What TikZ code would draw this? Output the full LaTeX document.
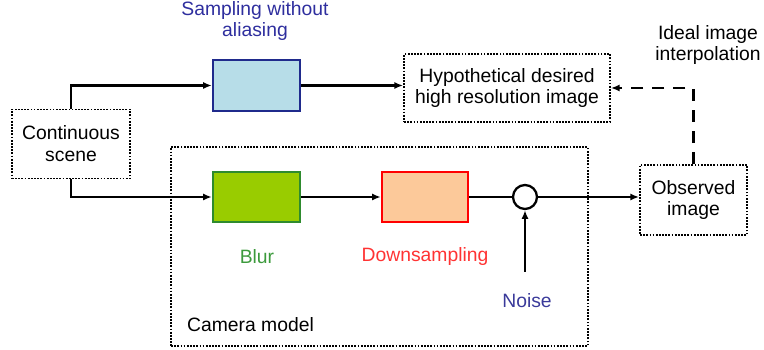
\documentclass[tikz,border=0pt]{standalone}
\usepackage{fontspec}
\setmainfont{Liberation Sans}
\usetikzlibrary{positioning,calc,arrows.meta}
\tikzset{font=\fontsize{11}{12.5}\selectfont}

\definecolor{sampfill}{HTML}{B7DDE8}
\definecolor{sampline}{HTML}{1F2A8C}
\definecolor{samptext}{HTML}{2E2E9E}
\definecolor{blurfill}{HTML}{99CC00}
\definecolor{blurline}{HTML}{2E8B2E}
\definecolor{blurtext}{HTML}{3C9A3C}
\definecolor{downfill}{HTML}{FCC99A}
\definecolor{downtext}{HTML}{FF3333}
\definecolor{noisetext}{HTML}{3A3A9A}

\begin{document}
\begin{tikzpicture}[x=0.02cm, y=-0.02cm]
	\useasboundingbox (0,0) rectangle (764,350);
	\begin{scope}
		\tikzstyle{every node}=[align=center, inner sep=1pt]
		\tikzstyle{dotbox}=[draw, line width=1pt, dash pattern=on 1pt off 0.8pt]
		\tikzstyle{block}=[draw, line width=1.3pt, minimum width=1.74cm, minimum height=1.0cm]
		\tikzstyle{conn}=[line width=1.3pt, -{Latex[length=5pt, width=4pt]}]

		\node[dotbox, minimum width=8.34cm, minimum height=3.98cm] (camera) at (379.5, 246.5) {};
		\node[anchor=west] (camlabel) at (185, 325) {Camera model};

		\node[dotbox, minimum width=2.36cm, minimum height=1.38cm] (scene) at (71, 144) {Continuous\\scene};
		\node[dotbox, minimum width=4.12cm, minimum height=1.36cm] (hypo) at (507, 88) {Hypothetical desired\\high resolution image};
		\node[dotbox, minimum width=2.14cm, minimum height=1.4cm] (obs) at (693.5, 200) {Observed\\image};

		\node[block, fill=sampfill, draw=sampline, minimum height=1.02cm] (samp) at (256.5, 85.5) {};
		\node[block, fill=blurfill, draw=blurline] (blur) at (256.5, 197) {};
		\node[block, fill=downfill, draw=red, minimum width=1.72cm] (down) at (425, 197) {};
		\node[draw, circle, line width=1.3pt, minimum size=0.48cm] (sum) at (525, 197) {};

		\node[text=samptext] (samplabel) at (255, 21) {Sampling without\\aliasing};
		\node[text=blurtext] (blurlabel) at (257, 257) {Blur};
		\node[text=downtext] (downlabel) at (425, 257) {Downsampling};
		\node[text=noisetext] (noise) at (527, 301) {Noise};
		\node (ideal) at (708, 45) {Ideal image\\interpolation};
		\coordinate (noisein) at (525, 272);

		\draw[conn          ](scene.north) |- (samp.west);
		\draw[conn          ](samp.east) -- (samp.east -| hypo.west);
		\draw[conn          ](scene.south) |- (blur.west);
		\draw[conn          ](blur.east) -- (down.west);
		\draw[line width=1.3pt](down.east) -- (sum.west);
		\draw[conn          ](noisein) -- (sum.south);
		\draw[conn          ](sum.east) -- (sum.east -| obs.west);
		\draw[conn, dash pattern=on 7pt off 5pt](obs.north) |- (hypo.east);
	\end{scope}
\end{tikzpicture}
\end{document}
